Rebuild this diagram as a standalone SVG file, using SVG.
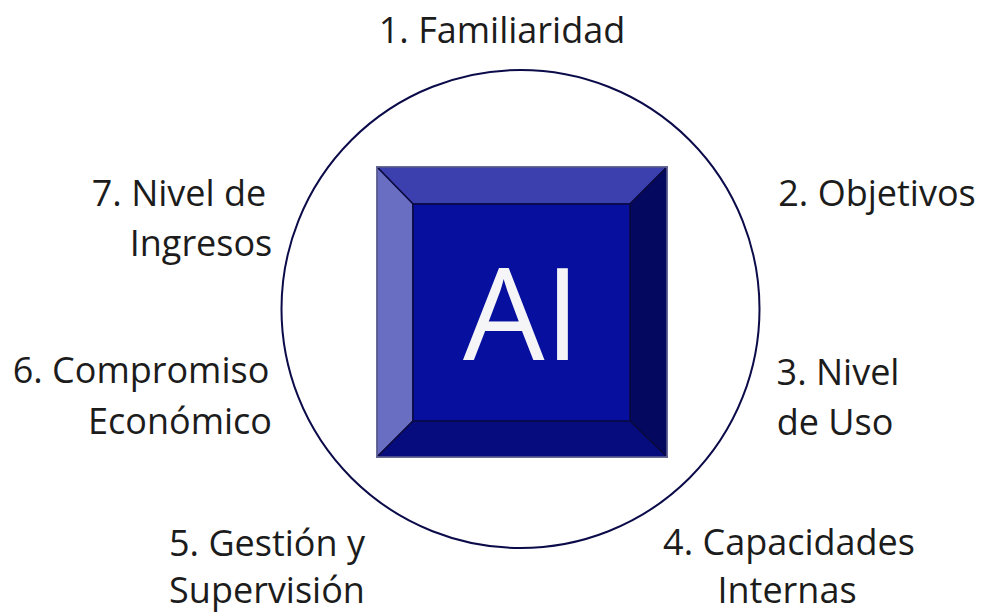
<svg xmlns="http://www.w3.org/2000/svg" width="987" height="613" viewBox="0 0 987 613">
<style>
.lbl{font-family:"Open Sans","Liberation Sans",sans-serif;font-size:36px;fill:#1c1c1c;text-anchor:middle}
.bev{stroke:#0a0a40;stroke-width:1.5;stroke-linejoin:round}
</style>
<rect width="987" height="613" fill="#ffffff"/>
<g id="ring">
<circle cx="520.5" cy="309" r="239" fill="none" stroke="#0b0b4a" stroke-width="2"/>
</g>
<g id="ai-key">
<polygon class="bev" points="377,167 667,167 630,204 413,204" fill="#3c40ae"/>
<polygon class="bev" points="377,167 413,204 413,421 377,457" fill="#6a6ec3"/>
<polygon class="bev" points="667,167 667,457 630,421 630,204" fill="#04085e"/>
<polygon class="bev" points="377,457 413,421 630,421 667,457" fill="#060c7e"/>
<rect class="bev" x="413" y="204" width="217" height="217" fill="#070f9e"/>
<rect x="377" y="167" width="290" height="290" fill="none" stroke="#8c8fc4" stroke-width="1"/>
<text x="463" y="360" font-family="'Open Sans','Liberation Sans',sans-serif" font-size="129" fill="#f5f5f7">AI</text>
</g>
<g id="n1"><text class="lbl" x="502" y="43">1. Familiaridad</text></g>
<g id="n2"><text class="lbl" x="877" y="206">2. Objetivos</text></g>
<g id="n3"><text class="lbl" x="838" y="385">3. Nivel</text><text class="lbl" x="835" y="435">de Uso</text></g>
<g id="n4"><text class="lbl" x="789" y="555">4. Capacidades</text><text class="lbl" x="787" y="603">Internas</text></g>
<g id="n5"><text class="lbl" x="267" y="556">5. Gestión y</text><text class="lbl" x="267" y="603">Supervisión</text></g>
<g id="n6"><text class="lbl" x="141" y="383">6. Compromiso</text><text class="lbl" x="180" y="434">Económico</text></g>
<g id="n7"><text class="lbl" x="179" y="206">7. Nivel de</text><text class="lbl" x="201" y="256">Ingresos</text></g>
<g id="connectors"></g>
</svg>
